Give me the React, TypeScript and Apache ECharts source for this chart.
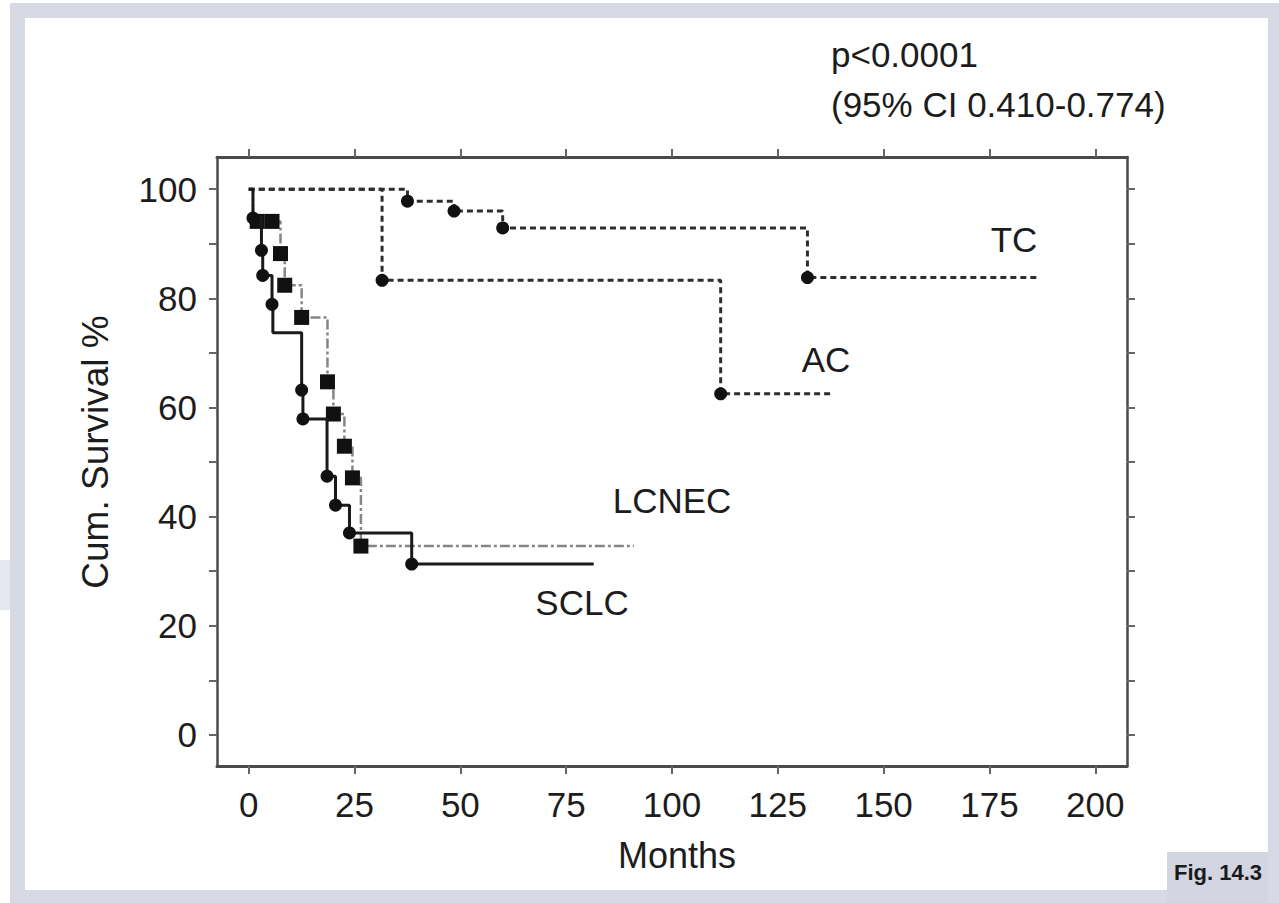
import React, { useEffect, useRef } from "react";
import * as echarts from "echarts";

// Axis ticks and labels
const xTickValues = [0, 25, 50, 75, 100, 125, 150, 175, 200];
const yTickValues = [0, 10, 20, 30, 40, 50, 60, 70, 80, 90, 100];
const yLabelValues = [0, 20, 40, 60, 80, 100];

// Kaplan–Meier steps: [months, cumulative survival %, marker shown (1) or not (0)]
const tcPoints = [
  [0, 100, 0],
  [37.5, 97.8, 1],
  [48.5, 96.0, 1],
  [60, 92.9, 1],
  [132, 83.8, 1],
  [187, 83.8, 0],
];
const acPoints = [
  [0, 100, 0],
  [31.5, 83.3, 1],
  [111.5, 62.5, 1],
  [137.5, 62.5, 0],
];
const lcnecPoints = [
  [0, 100, 0],
  [1, 94.1, 0],
  [2, 94.1, 1],
  [5.5, 94.1, 1],
  [7.5, 88.2, 1],
  [8.5, 82.4, 1],
  [12.5, 76.5, 1],
  [18.6, 64.7, 1],
  [20, 58.8, 1],
  [22.6, 52.9, 1],
  [24.5, 47.1, 1],
  [26.5, 34.6, 1],
  [91, 34.6, 0],
];
const sclcPoints = [
  [0, 100, 0],
  [1, 94.7, 1],
  [3, 88.8, 1],
  [3.3, 84.2, 1],
  [5.5, 78.9, 1],
  [5.7, 73.7, 0],
  [12.5, 63.2, 1],
  [12.8, 57.9, 1],
  [18.5, 47.4, 1],
  [20.5, 42.1, 1],
  [23.8, 37.0, 1],
  [38.5, 31.3, 1],
  [81.5, 31.3, 0],
];

const FONT = "'Liberation Sans', Arial, Helvetica, sans-serif";
const AXIS_COLOR = "#4a4a4a";

function toData(points: number[][], shape: string) {
  return points.map(([t, s, m]) => ({ value: [t, s], symbol: m ? shape : "none" }));
}

function makeXAxis(position: "bottom" | "top", labels: boolean) {
  return {
    type: "value",
    position,
    min: -7.5,
    max: 207.5,
    axisLine: { show: true, onZero: false, lineStyle: { color: AXIS_COLOR, width: 3 } },
    axisTick: { show: true, inside: false, length: 8, customValues: xTickValues, lineStyle: { color: "#666", width: 2 } },
    axisLabel: labels
      ? { show: true, customValues: xTickValues, fontSize: 35, color: "#1c1c1c", fontFamily: FONT, margin: 21 }
      : { show: false },
    splitLine: { show: false },
  };
}

function makeYAxis(position: "left" | "right", labels: boolean) {
  return {
    type: "value",
    position,
    min: -5.7,
    max: 105.9,
    axisLine: { show: true, onZero: false, lineStyle: { color: AXIS_COLOR, width: 2.5 } },
    axisTick: { show: true, inside: false, length: 8, customValues: yTickValues, lineStyle: { color: "#666", width: 2 } },
    axisLabel: labels
      ? { show: true, customValues: yLabelValues, fontSize: 35, color: "#1c1c1c", fontFamily: FONT, margin: 20 }
      : { show: false },
    splitLine: { show: false },
  };
}

function txt(text: string, x: number, y: number, fontSize: number, align = "center", extra: any = {}) {
  return {
    type: "text",
    x,
    y,
    silent: true,
    z: 10,
    ...extra,
    style: {
      text,
      fontSize,
      fontFamily: FONT,
      fill: "#1c1c1c",
      textAlign: align,
      textVerticalAlign: "middle",
      ...(extra.style || {}),
    },
  };
}

export default function App() {
  const ref = useRef<HTMLDivElement>(null);

  useEffect(() => {
    if (!ref.current) return;
    const chart = echarts.init(ref.current, undefined, { renderer: "svg" });
    const band = "#d7d9e5";
    const option: any = {
      animation: false,
      backgroundColor: "#ffffff",
      grid: { left: 217, right: 152, top: 157, bottom: 137 },
      xAxis: [makeXAxis("bottom", true), makeXAxis("top", false)],
      yAxis: [makeYAxis("left", true), makeYAxis("right", false)],
      series: [
        {
          name: "TC",
          type: "line",
          step: "end",
          data: toData(tcPoints, "circle"),
          showAllSymbol: true,
          symbolSize: 13,
          itemStyle: { color: "#111" },
          lineStyle: { color: "#2e2e2e", width: 3, type: [6, 4] },
          z: 3,
        },
        {
          name: "AC",
          type: "line",
          step: "end",
          data: toData(acPoints, "circle"),
          showAllSymbol: true,
          symbolSize: 13,
          itemStyle: { color: "#111" },
          lineStyle: { color: "#2e2e2e", width: 3, type: [6, 4] },
          z: 3,
        },
        {
          name: "LCNEC",
          type: "line",
          step: "end",
          data: toData(lcnecPoints, "rect"),
          showAllSymbol: true,
          symbolSize: 15,
          itemStyle: { color: "#111" },
          lineStyle: { color: "#858585", width: 2.5, type: [10, 3, 3, 3] },
          z: 4,
        },
        {
          name: "SCLC",
          type: "line",
          step: "end",
          data: toData(sclcPoints, "circle"),
          showAllSymbol: true,
          symbolSize: 13,
          itemStyle: { color: "#111" },
          lineStyle: { color: "#1a1a1a", width: 3 },
          z: 5,
        },
      ],
      graphic: [
        // light frame around the figure
        { type: "rect", silent: true, shape: { x: 10, y: 3, width: 1269, height: 15 }, style: { fill: band } },
        { type: "rect", silent: true, shape: { x: 10, y: 3, width: 15, height: 900 }, style: { fill: band } },
        { type: "rect", silent: true, shape: { x: 1268, y: 3, width: 11, height: 900 }, style: { fill: band } },
        { type: "rect", silent: true, shape: { x: 10, y: 890, width: 1269, height: 13 }, style: { fill: band } },
        { type: "rect", silent: true, shape: { x: 0, y: 560, width: 10, height: 50 }, style: { fill: "#e6e8ef" } },
        { type: "rect", silent: true, shape: { x: 1167, y: 852, width: 101, height: 51 }, style: { fill: "#d3d5e0" } },
        txt("Fig. 14.3", 1218, 872, 22, "center", { style: { fill: "#1a1a1a", fontWeight: "bold" } }),
        // texts
        txt("p<0.0001", 831, 54, 35, "left"),
        txt("(95% CI 0.410-0.774)", 831, 104, 35, "left"),
        txt("Cum. Survival %", 95, 452, 37, "center", { rotation: Math.PI / 2 }),
        txt("Months", 677, 855, 36, "center"),
        txt("TC", 1014, 239, 35, "center"),
        txt("AC", 826, 359, 35, "center"),
        txt("LCNEC", 672, 500, 35, "center"),
        txt("SCLC", 582, 602, 35, "center"),
      ],
    };
    chart.setOption(option);
    return () => chart.dispose();
  }, []);

  return (
    <div
      ref={ref}
      style={{ position: "fixed", left: 0, top: 0, width: 1279, height: 903, background: "#fff" }}
    />
  );
}
